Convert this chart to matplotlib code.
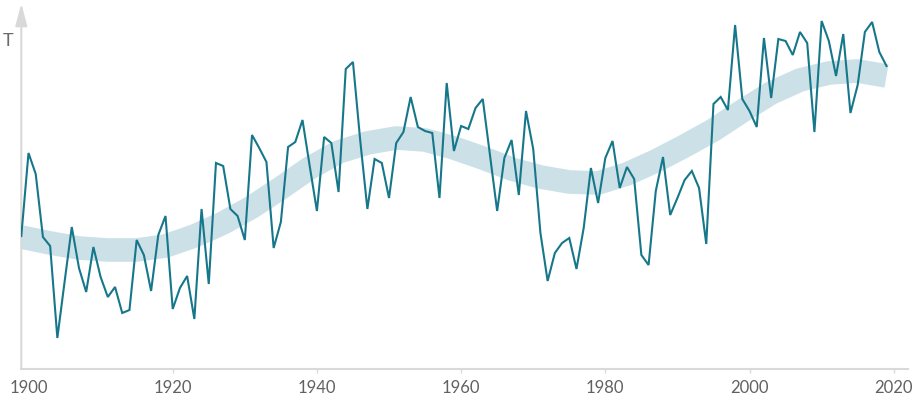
import matplotlib
matplotlib.use("Agg")
import matplotlib.pyplot as plt

# Annual temperature (relative units), 1899-2019
first_year = 1899
temps = [133, 216, 195, 132, 123, 31, 87, 142, 101, 77,
         122, 92, 72, 82, 56, 59, 129, 114, 78, 134,
         153, 60, 81, 93, 50, 160, 85, 206, 203, 160,
         153, 129, 234, 221, 207, 121, 147, 222, 227, 249,
         203, 158, 232, 226, 177, 300, 307, 229, 160, 210,
         206, 171, 226, 237, 272, 242, 238, 236, 171, 286,
         218, 243, 240, 261, 270, 214, 158, 211, 229, 174,
         258, 220, 136, 88, 116, 126, 131, 100, 141, 201,
         166, 211, 228, 181, 202, 190, 114, 104, 178, 212,
         154, 171, 189, 198, 181, 125, 265, 272, 259, 344,
         270, 258, 242, 331, 271, 330, 328, 314, 337, 326,
         237, 348, 328, 293, 335, 256, 284, 337, 347, 317,
         303]
years = list(range(first_year, first_year + len(temps)))

# Smoothed trend band (centre line)
trend_years = [1899, 1903, 1907, 1911, 1915, 1919, 1923, 1927, 1931, 1935,
               1939, 1943, 1947, 1951, 1955, 1959, 1963, 1967, 1971, 1975,
               1979, 1983, 1987, 1991, 1995, 1999, 2003, 2007, 2011, 2015, 2019]
trend_vals = [132, 126, 121, 119, 119, 123, 133, 146, 162, 181,
              201, 217, 226, 231, 229, 221, 211, 200, 192, 187,
              186, 195, 208, 223, 239, 258, 276, 289, 296, 298, 293]

tick_years = [1900, 1920, 1940, 1960, 1980, 2000, 2020]
tick_labels = ["1900", "1920", "1940", "1960", "1980", "2000", "2020"]

W, H = 918, 398
fig = plt.figure(figsize=(W / 100, H / 100), dpi=100)
left, right = 21.3 / W, 908 / W
bottom, top = (H - 369) / H, (H - 3.5) / H
ax = fig.add_axes([left, bottom, right - left, top - bottom])

ax.set_xlim(1899, 2021.98)
ax.set_ylim(0, 365.5)

axis_col = "#d9d9d9"
line_col = "#17778a"
band_col = "#cbe1e7"

ax.plot(trend_years, trend_vals, color=band_col, lw=17, solid_capstyle="butt",
        solid_joinstyle="round", zorder=1)
ax.plot(years, temps, color=line_col, lw=1.5, solid_joinstyle="miter", zorder=3)

for s in ["top", "right", "left"]:
    ax.spines[s].set_visible(False)
ax.spines["bottom"].set_color(axis_col)
ax.spines["bottom"].set_linewidth(1.5)
ax.spines["bottom"].set_zorder(2)

ax.annotate("", xy=(0, 1), xycoords="axes fraction", xytext=(0, 0),
            textcoords="axes fraction",
            arrowprops=dict(arrowstyle="-|>,head_length=1.35,head_width=0.36",
                            color=axis_col, lw=1.5, mutation_scale=10,
                            shrinkA=0, shrinkB=0),
            annotation_clip=False, zorder=2)

ax.set_yticks([])
ax.set_xticks(tick_years)
ax.set_xticklabels(tick_labels, fontfamily="Lato", fontsize=12, color="#616161")
ax.tick_params(axis="x", length=3, width=1, color=axis_col, pad=5)
ax.xaxis.get_major_ticks()[0].tick1line.set_visible(False)

fig.text(8 / W, (H - 41) / H, "T", fontfamily="Lato", fontsize=13,
         color="#6a6a6a", ha="center", va="center")

fig.savefig("out.png", dpi=100)
